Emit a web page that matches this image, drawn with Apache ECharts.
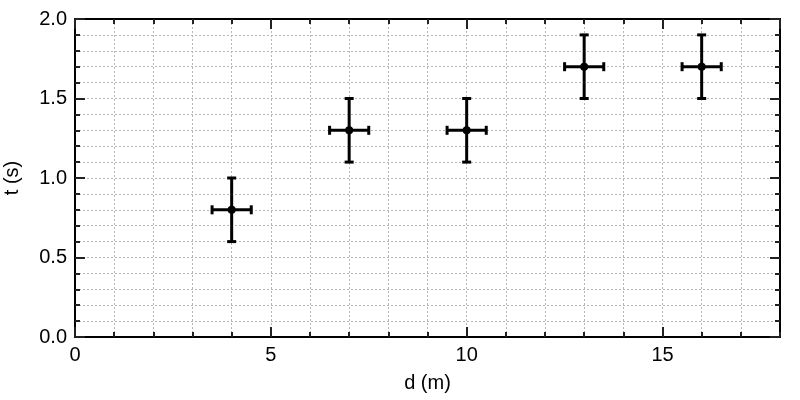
<!DOCTYPE html>
<html>
<head>
<meta charset="utf-8">
<script src="https://cdn.jsdelivr.net/npm/echarts@6/dist/echarts.min.js"></script>
<style>html,body{margin:0;padding:0;background:#fff}#c{width:800px;height:400px}</style>
</head>
<body>
<div id="c"></div>
<script>
var xValues = [4, 7, 10, 13, 16];
var yValues = [0.8, 1.3, 1.3, 1.7, 1.7];
var xErrors = [0.5, 0.5, 0.5, 0.5, 0.5];
var yErrors = [0.2, 0.2, 0.2, 0.2, 0.2];
var xName = 'd (m)';
var yName = 't (s)';

var data = xValues.map(function (x, i) { return [x, yValues[i], xErrors[i], yErrors[i]]; });

var FONT = 'Liberation Sans, Arial, Helvetica, sans-serif';
var gridRect = { left: 75, right: 20, top: 19, bottom: 63, containLabel: false, outerBoundsMode: 'none' };
var dotted = { show: true, lineStyle: { color: '#b5b5b5', width: 1, type: [2, 2] } };
var axisLineStyle = { show: true, onZero: false, lineStyle: { color: '#000', width: 2 } };
var tickStyle = { color: '#222', width: 2 };

function minorX(pos, split) {
  return { type: 'value', gridIndex: 0, position: pos, min: 0, max: 18, interval: 1,
    axisLine: axisLineStyle, axisTick: { show: true, inside: true, length: 5, lineStyle: tickStyle },
    axisLabel: { show: false }, splitLine: split ? dotted : { show: false } };
}
function minorY(pos, split) {
  return { type: 'value', gridIndex: 0, position: pos, min: 0, max: 2, interval: 0.1,
    axisLine: axisLineStyle, axisTick: { show: true, inside: true, length: 5, lineStyle: tickStyle },
    axisLabel: { show: false }, splitLine: split ? dotted : { show: false } };
}
var labelStyle = { color: '#000', fontSize: 20, fontFamily: FONT };
var nameStyle = { color: '#000', fontSize: 20, fontFamily: FONT };

var option = {
  animation: false,
  backgroundColor: '#fff',
  grid: [Object.assign({}, gridRect), Object.assign({}, gridRect)],
  xAxis: [
    minorX('bottom', true),
    minorX('top', false),
    { type: 'value', gridIndex: 1, position: 'bottom', min: 0, max: 18, interval: 5,
      axisLine: axisLineStyle, axisTick: { show: true, inside: true, length: 10, lineStyle: tickStyle },
      axisLabel: Object.assign({ show: true, margin: 8, showMaxLabel: false }, labelStyle),
      splitLine: { show: false },
      name: xName, nameLocation: 'middle', nameGap: 36, nameTextStyle: nameStyle },
    { type: 'value', gridIndex: 1, position: 'top', min: 0, max: 18, interval: 5,
      axisLine: axisLineStyle, axisTick: { show: true, inside: true, length: 10, lineStyle: tickStyle },
      axisLabel: { show: false }, splitLine: { show: false } }
  ],
  yAxis: [
    minorY('left', true),
    minorY('right', false),
    { type: 'value', gridIndex: 1, position: 'left', min: 0, max: 2, interval: 0.5,
      axisLine: axisLineStyle, axisTick: { show: true, inside: true, length: 10, lineStyle: tickStyle },
      axisLabel: Object.assign({ show: true, margin: 8, formatter: function (v) { return v.toFixed(1); } }, labelStyle),
      splitLine: { show: false },
      name: yName, nameLocation: 'middle', nameGap: 53, nameRotate: 90, nameTextStyle: nameStyle },
    { type: 'value', gridIndex: 1, position: 'right', min: 0, max: 2, interval: 0.5,
      axisLine: axisLineStyle, axisTick: { show: true, inside: true, length: 10, lineStyle: tickStyle },
      axisLabel: { show: false }, splitLine: { show: false } }
  ],
  series: [{
    type: 'custom',
    xAxisIndex: 0, yAxisIndex: 0,
    data: data,
    z: 10,
    renderItem: function (params, api) {
      var x = api.value(0), y = api.value(1), ex = api.value(2), ey = api.value(3);
      var c = api.coord([x, y]);
      var l = api.coord([x - ex, y]);
      var r = api.coord([x + ex, y]);
      var t = api.coord([x, y + ey]);
      var b = api.coord([x, y - ey]);
      var cap = 4.5;
      var st = { stroke: '#000', lineWidth: 3, fill: null };
      function line(x1, y1, x2, y2) { return { type: 'line', shape: { x1: x1, y1: y1, x2: x2, y2: y2 }, style: st }; }
      return { type: 'group', children: [
        line(l[0], l[1], r[0], r[1]),
        line(t[0], t[1], b[0], b[1]),
        line(l[0], l[1] - cap, l[0], l[1] + cap),
        line(r[0], r[1] - cap, r[0], r[1] + cap),
        line(t[0] - cap, t[1], t[0] + cap, t[1]),
        line(b[0] - cap, b[1], b[0] + cap, b[1]),
        { type: 'circle', shape: { cx: c[0], cy: c[1], r: 4 }, style: { fill: '#000' } }
      ] };
    }
  }]
};
echarts.init(document.getElementById('c'), null, { renderer: 'canvas' }).setOption(option);
</script>
</body>
</html>
